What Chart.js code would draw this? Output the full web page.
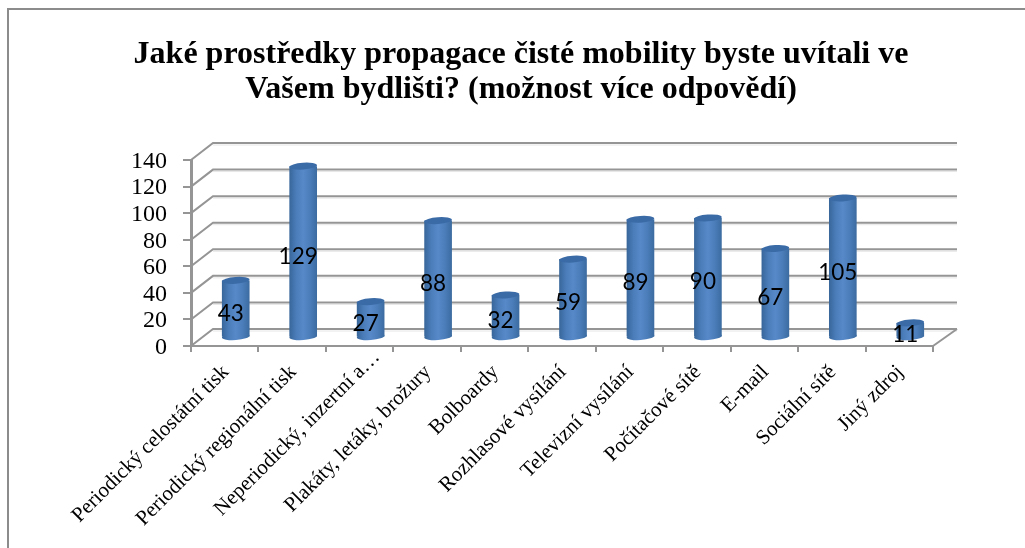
<!DOCTYPE html>
<html>
<head>
    <title>Prostředky propagace čisté mobility</title>
    <style>
        body, html {
            margin: 0;
            background-color: #ffffff;
        }
        canvas {
            display: block;
        }
    </style>
</head>
<body>
    <canvas id="myChart" width="1025" height="548"></canvas>
    <script src="https://cdn.jsdelivr.net/npm/chart.js"></script>
    <script>
        const titleLines = [
            'Jaké prostředky propagace čisté mobility byste uvítali ve',
            'Vašem bydlišti? (možnost více odpovědí)'
        ];
        const categories = [
            'Periodický celostátní tisk',
            'Periodický regionální tisk',
            'Neperiodický, inzertní a…',
            'Plakáty, letáky, brožury',
            'Bolboardy',
            'Rozhlasové vysílání',
            'Televizní vysílání',
            'Počítačové sítě',
            'E-mail',
            'Sociální sítě',
            'Jiný zdroj'
        ];
        const responses = [43, 129, 27, 88, 32, 59, 89, 90, 67, 105, 11];
        const yTicks = [0, 20, 40, 60, 80, 100, 120, 140];

        const axisGrey = '#959595';
        const depthX = 22;
        const depthY = -17;
        const serif = '"Liberation Serif", serif';

        function cylinderGradient(ctx, x, width) {
            const g = ctx.createLinearGradient(x - width / 2, 0, x + width / 2, 0);
            g.addColorStop(0, '#38669a');
            g.addColorStop(0.25, '#4b7dba');
            g.addColorStop(0.5, '#5789c9');
            g.addColorStop(0.75, '#4b7dba');
            g.addColorStop(1, '#3b6b9f');
            return g;
        }

        // frame of the pasted picture, only top and left edges are visible
        const framePlugin = {
            id: 'frame',
            beforeDraw(chart) {
                const ctx = chart.ctx;
                ctx.save();
                ctx.strokeStyle = '#8c8c8c';
                ctx.lineWidth = 2;
                ctx.beginPath();
                ctx.moveTo(8, 548);
                ctx.lineTo(8, 9);
                ctx.lineTo(1025, 9);
                ctx.stroke();
                ctx.restore();

                // the truncated label sits further along its slope in the original
                const item = chart.scales.x.getLabelItems(chart.chartArea)[2];
                if (item && !item.moved) {
                    item.options.translation[0] += 16;
                    item.options.translation[1] -= 15;
                    item.moved = true;
                }
            }
        };

        // back wall and floor of the 3D look, placed from the y scale
        const wallPlugin = {
            id: 'wall',
            beforeDatasetsDraw(chart) {
                const ctx = chart.ctx;
                const area = chart.chartArea;
                const y = chart.scales.y;
                const backRight = area.right + depthX + 2;
                ctx.save();
                yTicks.forEach(v => {
                    const py = y.getPixelForValue(v);
                    ctx.strokeStyle = '#e6e6e6';
                    ctx.lineWidth = 1;
                    ctx.beginPath();
                    ctx.moveTo(area.left + depthX, py + depthY + 2);
                    ctx.lineTo(backRight, py + depthY + 2);
                    ctx.stroke();
                    ctx.strokeStyle = axisGrey;
                    ctx.lineWidth = 2;
                    ctx.beginPath();
                    ctx.moveTo(area.left, py);
                    ctx.lineTo(area.left + depthX, py + depthY);
                    ctx.lineTo(backRight, py + depthY);
                    ctx.stroke();
                });
                const py0 = y.getPixelForValue(0);
                ctx.beginPath();
                ctx.moveTo(area.right, py0);
                ctx.lineTo(backRight, py0 + depthY);
                ctx.stroke();
                ctx.restore();
            }
        };

        // bars sit half way into the depth and get elliptical caps
        const cylinderPlugin = {
            id: 'cylinder',
            beforeDatasetDraw(chart) {
                chart.ctx.save();
                chart.ctx.translate(depthX / 2, depthY / 2);
            },
            afterDatasetDraw(chart, args) {
                const ctx = chart.ctx;
                args.meta.data.forEach(bar => {
                    ctx.fillStyle = cylinderGradient(ctx, bar.x, bar.width);
                    ctx.beginPath();
                    ctx.ellipse(bar.x, bar.base, bar.width / 2, 3.6, -0.07, 0, Math.PI * 2);
                    ctx.fill();
                    ctx.fillStyle = '#3b6ba6';
                    ctx.beginPath();
                    ctx.ellipse(bar.x, bar.y, bar.width / 2, 3.4, -0.07, 0, Math.PI * 2);
                    ctx.fill();
                });
                ctx.restore();
            }
        };

        const valueLabelPlugin = {
            id: 'valueLabels',
            afterDatasetsDraw(chart) {
                const ctx = chart.ctx;
                const meta = chart.getDatasetMeta(0);
                ctx.save();
                ctx.font = '22.5px Lato, sans-serif';
                ctx.fillStyle = '#000000';
                ctx.textAlign = 'center';
                ctx.textBaseline = 'middle';
                meta.data.forEach((bar, i) => {
                    const cx = bar.x + depthX / 2 - 5;
                    const cy = (bar.y + bar.base) / 2 + depthY / 2 + 5;
                    ctx.fillText(String(responses[i]), cx, cy);
                });
                ctx.restore();
            }
        };

        new Chart(document.getElementById('myChart').getContext('2d'), {
            type: 'bar',
            plugins: [framePlugin, wallPlugin, cylinderPlugin, valueLabelPlugin],
            data: {
                labels: categories,
                datasets: [{
                    label: 'Počet odpovědí',
                    data: responses,
                    barPercentage: 0.41,
                    categoryPercentage: 1,
                    borderWidth: 0,
                    clip: false,
                    backgroundColor(c) {
                        const x = c.chart.scales.x;
                        if (!x || c.dataIndex === undefined) return '#4f81bd';
                        const px = x.getPixelForValue(c.dataIndex);
                        const w = x.width / categories.length;
                        if (!Number.isFinite(px) || !Number.isFinite(w)) return '#4f81bd';
                        return cylinderGradient(c.chart.ctx, px, w * 0.41);
                    }
                }]
            },
            options: {
                responsive: false,
                animation: false,
                layout: {
                    autoPadding: false,
                    padding: { left: 109, right: 92, top: 0, bottom: 0 }
                },
                plugins: {
                    legend: { display: false },
                    tooltip: { enabled: false },
                    title: {
                        display: true,
                        text: titleLines,
                        color: '#000000',
                        font: { family: serif, size: 32, weight: 'bold', lineHeight: 1.094 },
                        padding: { top: 37, bottom: 53 }
                    }
                },
                scales: {
                    x: {
                        afterFit(s) { s.height = 202; },
                        border: { color: axisGrey, width: 2 },
                        grid: { drawOnChartArea: false, color: axisGrey, lineWidth: 2, tickLength: 6 },
                        ticks: {
                            autoSkip: false,
                            minRotation: 45,
                            maxRotation: 45,
                            padding: 8,
                            labelOffset: 1,
                            color: '#000000',
                            font: { family: serif, size: 21 }
                        }
                    },
                    y: {
                        min: 0,
                        max: 140,
                        afterFit(s) { s.width = 82; },
                        afterBuildTicks(s) { s.ticks = yTicks.map(v => ({ value: v })); },
                        border: { color: axisGrey, width: 3 },
                        grid: { drawOnChartArea: false, color: axisGrey, lineWidth: 2, tickLength: 8 },
                        ticks: {
                            autoSkip: false,
                            padding: 16,
                            labelOffset: 1.5,
                            color: '#000000',
                            font: { family: serif, size: 24 }
                        }
                    }
                }
            }
        });
    </script>
</body>
</html>
